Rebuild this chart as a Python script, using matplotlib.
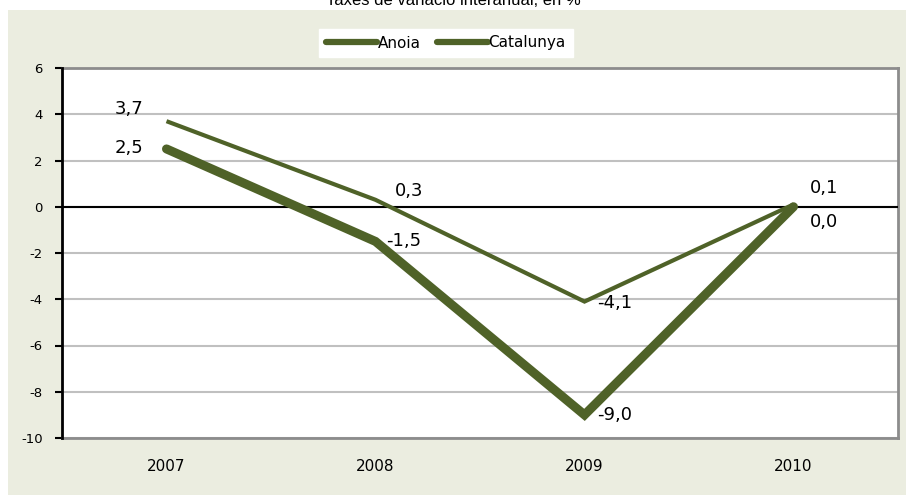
import matplotlib.pyplot as plt
from matplotlib.patches import Rectangle
from matplotlib.lines import Line2D

plt.rcParams['axes.unicode_minus'] = False

years = ['2007', '2008', '2009', '2010']
anoia = [2.5, -1.5, -9.0, 0.0]
catalunya = [3.7, 0.3, -4.1, 0.1]
anoia_labels = ['2,5', '-1,5', '-9,0', '0,0']
catalunya_labels = ['3,7', '0,3', '-4,1', '0,1']

green = '#4F6228'
W, H = 906, 495

fig = plt.figure(figsize=(W / 100, H / 100), dpi=100)
fig.patch.set_facecolor('white')
fig.patches.append(Rectangle((8 / W, 0), (W - 8) / W, (H - 10) / H,
                             transform=fig.transFigure, facecolor='#EBEDE0',
                             edgecolor='none', zorder=-10))

fig.text(0.5, 1 - 5 / H, 'Taxes de variació interanual, en %', ha='center',
         va='baseline', fontsize=12, family='Liberation Sans')

ax = fig.add_axes([62 / W, (H - 438) / H, (898 - 62) / W, (438 - 68) / H])
ax.set_facecolor('white')
x = [i + 0.5 for i in range(len(years))]

ax.plot(x, anoia, color=green, lw=6.5, solid_capstyle='round', solid_joinstyle='miter', zorder=4)
ax.plot(x, catalunya, color=green, lw=3, solid_capstyle='butt', solid_joinstyle='miter', zorder=4)

ax.set_xlim(0, 4)
ax.set_ylim(-10, 6)
ax.set_yticks(range(-10, 7, 2))
ax.set_xticks(x)
ax.set_xticklabels(years)
ax.tick_params(axis='x', length=0, pad=15, labelsize=11)
ax.tick_params(axis='y', length=5, width=1.5, direction='out', labelsize=9.5, pad=9)
ax.yaxis.grid(True, color='#C0C0C0', lw=1.5)
ax.set_axisbelow(True)
ax.axhline(0, color='black', lw=1.5, zorder=3)

ax.spines['left'].set_color('black')
ax.spines['left'].set_linewidth(2)
ax.spines['left'].set_zorder(5)
for s in ['top', 'right', 'bottom']:
    ax.spines[s].set_color('#8C8C8C')
    ax.spines[s].set_linewidth(2)

# label offsets in points
off_a = [(-27, 1), (20, 0), (22, 0), (22, -11)]
off_c = [(-27, 9), (24, 6), (22, -1), (22, 12)]
for xi, v, t, o in zip(x, anoia, anoia_labels, off_a):
    ax.annotate(t, (xi, v), xytext=o, textcoords='offset points',
                ha='center', va='center', fontsize=13)
for xi, v, t, o in zip(x, catalunya, catalunya_labels, off_c):
    ax.annotate(t, (xi, v), xytext=o, textcoords='offset points',
                ha='center', va='center', fontsize=13)

handles = [Line2D([], [], color=green, lw=4.5, solid_capstyle='round'),
           Line2D([], [], color=green, lw=4.5, solid_capstyle='round')]
leg = fig.legend(handles, ['Anoia', 'Catalunya'], loc='center',
                 bbox_to_anchor=(446 / W, 1 - 43 / H), ncol=2, frameon=True,
                 fancybox=False, edgecolor='white', framealpha=1,
                 fontsize=11, handlelength=3.3, handletextpad=0.05,
                 columnspacing=1.1, borderpad=0.45)

plt.savefig('out.png', dpi=100)
